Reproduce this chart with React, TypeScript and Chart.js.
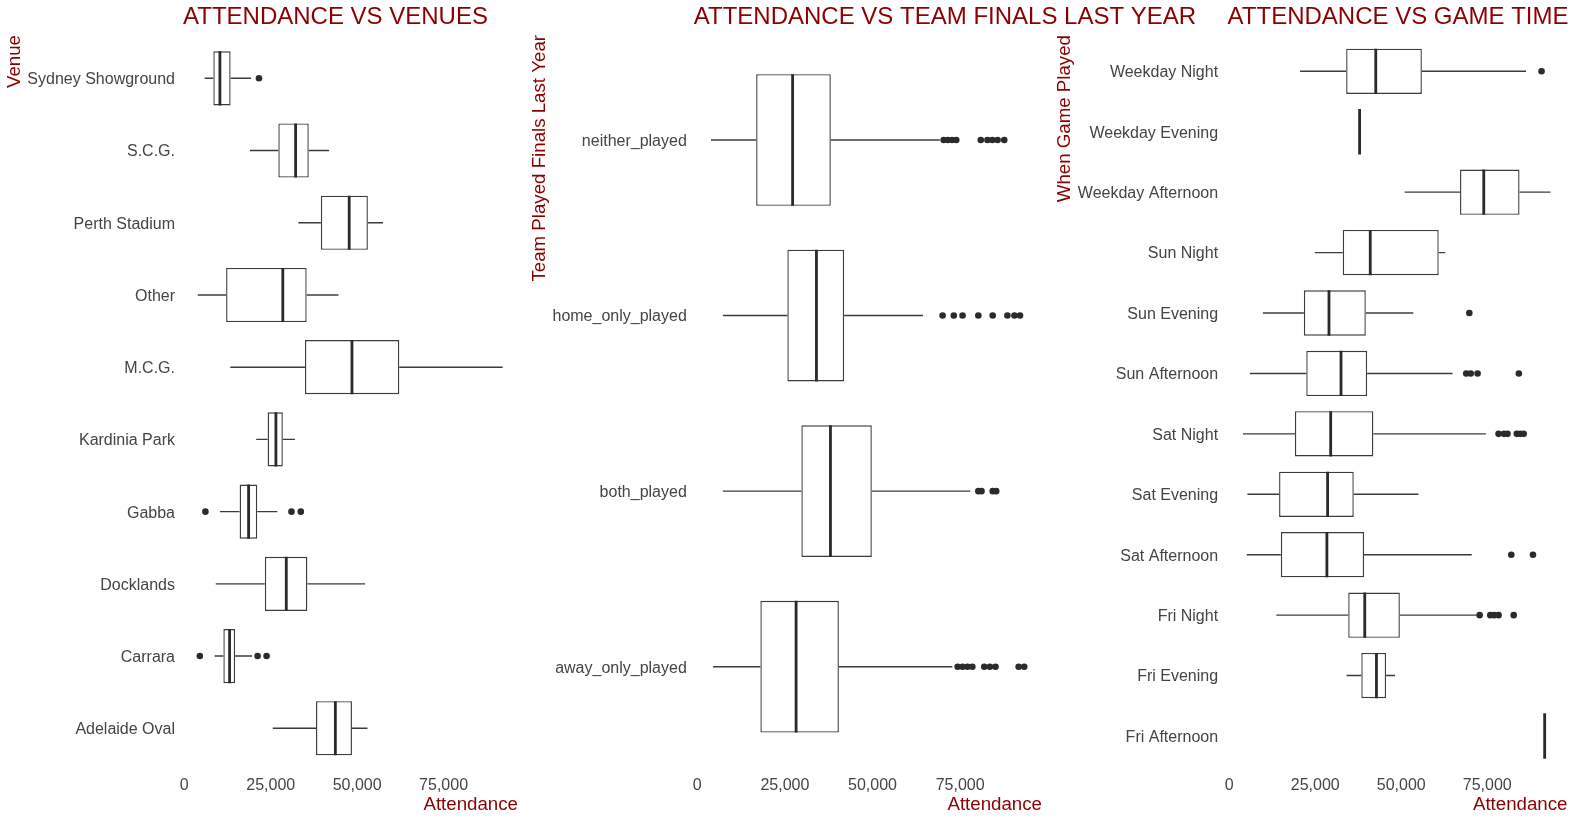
import React, { useEffect, useRef } from 'react';
import { Chart, registerables } from 'chart.js';

Chart.register(...registerables);

const FONT = '"Liberation Sans", Arial, Helvetica, sans-serif';
const RED = '#8B0000';
const TEXT = '#444444';
const LINE = '#3c3c3c';
const MED = '#2a2a2a';
const DOT = '#2b2b2b';
const PAGE_H = 821;

const X_TICKS = [0, 25000, 50000, 75000];

// ---- Panel 1: venues ----
const VENUES = ['Sydney Showground', 'S.C.G.', 'Perth Stadium', 'Other', 'M.C.G.', 'Kardinia Park', 'Gabba', 'Docklands', 'Carrara', 'Adelaide Oval'];
const VENUE_LO = [5900, 19000, 33000, 3900, 13300, 20800, 10300, 9100, 8800, 25600];
const VENUE_Q1 = [8400, 27200, 39500, 12100, 34900, 24100, 16000, 23300, 11300, 38100];
const VENUE_MED = [10300, 32200, 47700, 28500, 48500, 26500, 18600, 29500, 13100, 43700];
const VENUE_Q3 = [13400, 36000, 53100, 35400, 62200, 28500, 21100, 35600, 14700, 48500];
const VENUE_HI = [19300, 41900, 57500, 44600, 92100, 32000, 26900, 52300, 19600, 53000];
const VENUE_OUT = [[21600], [], [], [], [], [], [6100, 31000, 33700], [], [4500, 21200, 23800], []];
const VENUE_LIMITS = [-520, 96530];

// ---- Panel 2: finals last year ----
const FINALS = ['neither_played', 'home_only_played', 'both_played', 'away_only_played'];
const FINALS_LO = [3900, 7300, 7300, 4500];
const FINALS_Q1 = [16800, 25700, 29700, 18000];
const FINALS_MED = [27200, 34000, 38000, 28200];
const FINALS_Q3 = [38100, 41900, 49800, 40400];
const FINALS_HI = [69200, 64400, 77900, 72800];
const FINALS_OUT = [
  [70300, 71500, 72700, 73900, 80900, 82800, 84200, 85700, 87600],
  [70000, 73200, 75700, 80200, 84300, 88500, 90500, 92100],
  [80200, 81100, 84300, 85300],
  [74300, 75700, 77100, 78500, 81900, 83500, 85100, 91700, 93300],
];
const FINALS_LIMITS = [-570, 98370];

// ---- Panel 3: game time ----
const TIMES = ['Weekday Night', 'Weekday Evening', 'Weekday Afternoon', 'Sun Night', 'Sun Evening', 'Sun Afternoon', 'Sat Night', 'Sat Evening', 'Sat Afternoon', 'Fri Night', 'Fri Evening', 'Fri Afternoon'];
const TIME_LO = [20600, 37900, 51000, 24900, 9800, 6000, 4000, 5300, 5100, 13700, 34100, 91700];
const TIME_Q1 = [34000, 37900, 67100, 33000, 21700, 22400, 19100, 14500, 15000, 34600, 38400, 91700];
const TIME_MED = [42600, 37900, 74000, 41000, 29000, 32500, 29500, 28600, 28400, 39400, 42800, 91700];
const TIME_Q3 = [56000, 37900, 84400, 60900, 39700, 40100, 41900, 36200, 39200, 49600, 45600, 91700];
const TIME_HI = [86300, 37900, 93400, 62800, 53500, 64900, 74600, 55000, 70500, 72000, 48200, 91700];
const TIME_OUT = [[90800], [], [], [], [69800], [68900, 70200, 72200, 84200], [78300, 79900, 80900, 83600, 84600, 85600], [], [82000, 88300], [72800, 75900, 77000, 78300, 82700], [], []];
const TIME_LIMITS = [-470, 98340];

const panelTextPlugin = {
  id: 'panelText',
  afterDraw(chart: any, _args: any, opts: any) {
    const { ctx, chartArea } = chart;
    ctx.save();
    ctx.fillStyle = RED;
    ctx.textBaseline = 'middle';
    ctx.font = `24px ${FONT}`;
    ctx.textAlign = 'left';
    ctx.fillText(opts.title, chartArea.left + opts.titleDx, opts.titleY);
    ctx.font = `18.7px ${FONT}`;
    ctx.translate(opts.yTitleX, opts.yTitleTop);
    ctx.rotate(-Math.PI / 2);
    ctx.textAlign = 'right';
    ctx.fillText(opts.yTitle, 0, 0);
    ctx.restore();
  },
};

type PanelProps = {
  title: string;
  yTitle: string;
  labels: string[];
  lo: number[];
  q1: number[];
  med: number[];
  q3: number[];
  hi: number[];
  out: number[][];
  limits: number[];
  left: number;
  width: number;
  yAxisWidth: number;
  padRight: number;
  top: number;
  bottom: number;
  labelPad: number;
  yTitleX: number;
  titleDx: number;
};

function BoxPanel(p: PanelProps) {
  const ref = useRef<HTMLCanvasElement>(null);
  useEffect(() => {
    if (!ref.current) return;
    const n = p.labels.length;
    const xAxisHeight = PAGE_H - p.bottom;
    const tickPad = 786 - 9.6 - p.bottom;

    const chart = new Chart(ref.current, {
      type: 'bar',
      plugins: [panelTextPlugin as any],
      data: {
        labels: p.labels,
        datasets: [
          {
            type: 'line',
            label: 'outliers',
            indexAxis: 'y',
            data: p.out.flatMap((arr, i) => arr.map((v) => ({ x: v, y: p.labels[i] }))),
            showLine: false,
            pointRadius: 3.3,
            pointBackgroundColor: DOT,
            pointBorderColor: DOT,
            pointBorderWidth: 0,
          } as any,
          {
            type: 'line',
            label: 'median',
            indexAxis: 'y',
            data: p.med.map((v, i) => ({ x: v, y: p.labels[i] })),
            showLine: false,
            pointStyle: 'line',
            pointRotation: 90,
            pointRadius: (c: any) => {
              const a = c.chart.chartArea;
              return a ? ((a.bottom - a.top) / n) * 0.375 : 0;
            },
            pointBorderColor: MED,
            pointBorderWidth: 2.8,
          } as any,
          {
            type: 'bar',
            label: 'box',
            data: p.q1.map((v, i) => [v, p.q3[i]]),
            backgroundColor: '#ffffff',
            borderColor: LINE,
            borderWidth: 1.4,
            borderSkipped: false,
            grouped: false,
            barPercentage: 0.75,
            categoryPercentage: 1,
            inflateAmount: 0,
          } as any,
          {
            type: 'bar',
            label: 'lower whisker',
            data: p.lo.map((v, i) => [v, p.q1[i]]),
            backgroundColor: LINE,
            borderWidth: 0,
            grouped: false,
            barThickness: 1.4,
            inflateAmount: 0,
          } as any,
          {
            type: 'bar',
            label: 'upper whisker',
            data: p.q3.map((v, i) => [v, p.hi[i]]),
            backgroundColor: LINE,
            borderWidth: 0,
            grouped: false,
            barThickness: 1.4,
            inflateAmount: 0,
          } as any,
        ],
      },
      options: {
        indexAxis: 'y',
        responsive: true,
        maintainAspectRatio: false,
        animation: false,
        events: [],
        layout: { padding: { left: 0, right: p.padRight, top: p.top, bottom: 0 } },
        plugins: {
          legend: { display: false },
          tooltip: { enabled: false },
          title: { display: false },
          panelText: {
            title: p.title,
            titleDx: p.titleDx,
            titleY: 17.2,
            yTitle: p.yTitle,
            yTitleX: p.yTitleX,
            yTitleTop: 35,
          },
        },
        scales: {
          x: {
            type: 'linear',
            min: p.limits[0],
            max: p.limits[1],
            grid: { display: false, drawTicks: false },
            border: { display: false },
            afterBuildTicks: (s: any) => {
              s.ticks = X_TICKS.map((v) => ({ value: v }));
            },
            afterFit: (s: any) => {
              s.height = xAxisHeight;
            },
            ticks: {
              padding: tickPad,
              color: TEXT,
              font: { family: FONT, size: 16 },
              maxRotation: 0,
              callback: (v: any) => Number(v).toLocaleString('en-US'),
            },
            title: {
              display: true,
              text: 'Attendance',
              align: 'end',
              color: RED,
              font: { family: FONT, size: 18.7 },
              padding: { top: 0, bottom: 5 },
            },
          },
          y: {
            type: 'category',
            offset: true,
            grid: { display: false, drawTicks: false },
            border: { display: false },
            afterFit: (s: any) => {
              s.width = p.yAxisWidth;
            },
            ticks: {
              padding: p.labelPad,
              labelOffset: 1.5,
              color: TEXT,
              font: { family: FONT, size: 16 },
              autoSkip: false,
            },
            title: { display: false },
          },
        },
      } as any,
    });
    return () => chart.destroy();
  }, []);

  return (
    <div style={{ position: 'absolute', left: p.left, top: 0, width: p.width, height: PAGE_H }}>
      <canvas ref={ref} />
    </div>
  );
}

export default function App() {
  return (
    <div style={{ position: 'fixed', left: 0, top: 0, width: 1576, height: PAGE_H, background: '#ffffff', overflow: 'hidden' }}>
      <BoxPanel
        title="ATTENDANCE VS VENUES"
        yTitle="Venue"
        labels={VENUES}
        lo={VENUE_LO}
        q1={VENUE_Q1}
        med={VENUE_MED}
        q3={VENUE_Q3}
        hi={VENUE_HI}
        out={VENUE_OUT}
        limits={VENUE_LIMITS}
        left={0}
        width={524}
        yAxisWidth={182.5}
        padRight={6}
        top={42.2}
        bottom={764.4}
        labelPad={7.5}
        yTitleX={14.8}
        titleDx={0.5}
      />
      <BoxPanel
        title="ATTENDANCE VS TEAM FINALS LAST YEAR"
        yTitle="Team Played Finals Last Year"
        labels={FINALS}
        lo={FINALS_LO}
        q1={FINALS_Q1}
        med={FINALS_MED}
        q3={FINALS_Q3}
        hi={FINALS_HI}
        out={FINALS_OUT}
        limits={FINALS_LIMITS}
        left={524}
        width={676}
        yAxisWidth={171.3}
        padRight={158}
        top={52.2}
        bottom={754.5}
        labelPad={8.5}
        yTitleX={16.3}
        titleDx={-1.5}
      />
      <BoxPanel
        title="ATTENDANCE VS GAME TIME"
        yTitle="When Game Played"
        labels={TIMES}
        lo={TIME_LO}
        q1={TIME_Q1}
        med={TIME_MED}
        q3={TIME_Q3}
        hi={TIME_HI}
        out={TIME_OUT}
        limits={TIME_LIMITS}
        left={1049}
        width={527}
        yAxisWidth={178.6}
        padRight={8.5}
        top={41.1}
        bottom={766.2}
        labelPad={9.5}
        yTitleX={16.3}
        titleDx={0}
      />
    </div>
  );
}
